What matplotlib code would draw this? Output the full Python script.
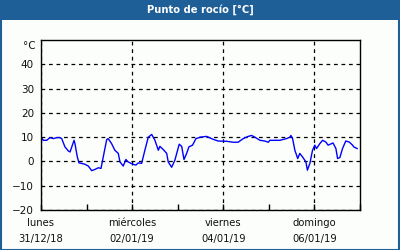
import matplotlib
matplotlib.use("Agg")
import matplotlib.pyplot as plt
from matplotlib.patches import Rectangle

title = "Punto de rocío [°C]"
unit = "°C"
hours = [0, 1.2, 3, 4.7, 6.5, 8.3, 10, 10.9, 12.6, 14.4, 15.3, 17.4, 17.9, 19.1, 20, 21.4, 23.2,
         24.9, 26.7, 28.4, 30.2, 31.6, 32.8, 34.6, 35.4, 37.2, 38.9, 40.7, 41.6, 43.3, 44.7, 45.9,
         47.4, 48.6, 50, 51.2, 53, 54.7, 56.5, 58.3, 60, 61.8, 62.6, 64.4, 66.2, 67, 68.8, 70.5,
         72.8, 74.1, 75.3, 76.7, 77.9, 79.8, 81.6, 83.3, 83.7, 87.2, 90.7, 93.3, 97.7, 101.2,
         103.8, 106.5, 109.1, 110.9, 112.6, 115.3, 117.9, 119.7, 120.5, 125.8, 129.3, 131.1,
         131.6, 132.5, 133.7, 135.2, 136.3, 137.7, 139.5, 140.3, 141.6, 143, 144.2, 145.1,
         146.8, 148.3, 150, 151.2, 153.8, 155.3, 156.2, 157.4, 158.8, 160.5, 162.3, 164.1,
         164.7, 166.5]
dew = [10.0, 8.7, 8.7, 9.8, 9.4, 9.8, 9.8, 9.4, 6.0, 4.3, 3.9, 8.7, 7.3, 1.9, -0.6, -0.8, -1.2,
       -1.9, -3.8, -3.3, -2.6, -2.9, 1.9, 9.0, 9.4, 7.3, 4.6, 3.3, -0.2, -1.9, 0.8, -0.2,
       -0.8, -1.2, -1.5, -0.6, -0.8, 4.6, 10.0, 11.1, 8.7, 4.6, 6.2, 4.9, 3.3, -0.2, -2.4, 0.5,
       7.1, 6.2, 0.8, 3.3, 6.0, 6.7, 9.4, 9.8, 10.0, 10.3, 9.1, 8.4, 8.3, 7.9,
       7.9, 9.4, 10.3, 10.7, 10.0, 8.7, 8.4, 7.9, 8.7, 8.7, 9.4, 10.0,
       10.7, 9.4, 4.6, 1.2, 3.3, 1.9, -0.2, -3.6, -0.8, 4.6, 6.7, 5.3,
       7.3, 8.7, 8.0, 6.7, 7.6, 5.3, 1.2, 1.6, 5.3, 8.4, 8.0, 6.7,
       6.0, 5.3]
xtick_pos = [0, 48, 96, 144]
xtick_labels = ["lunes\n31/12/18", "miércoles\n02/01/19", "viernes\n04/01/19", "domingo\n06/01/19"]
minor_pos = [24, 72, 120, 168]
ytick_pos = [-20, -10, 0, 10, 20, 30, 40]

bg = "#fbfefb"
blue = "#1e5f97"

fig = plt.figure(figsize=(4, 2.5), dpi=100, facecolor=bg)
plt.rcParams['font.family'] = ['DejaVu Sans']

# title bar
fig.patches.append(Rectangle((0, 1 - 20 / 250), 1, 20 / 250, transform=fig.transFigure,
                             facecolor=blue, edgecolor='none', zorder=0))
fig.patches.append(Rectangle((0.5 / 400, 0.5 / 250), 1 - 1.5 / 400, 1 - 1.5 / 250,
                             transform=fig.transFigure, fill=False, edgecolor=blue,
                             lw=1.5, zorder=1))
fig.text(0.5, 1 - 10 / 250, title, color='white', fontsize=7.2, fontweight='bold',
         ha='center', va='center')

ax = fig.add_axes([41 / 400, 40 / 250, 319 / 400, 170 / 250])
ax.set_facecolor(bg)
ax.plot(hours, dew, color='#0000ff', lw=1)
ax.set_xlim(0, 168)
ax.set_ylim(-20, 50)
ax.set_yticks(ytick_pos)
ax.set_xticks(xtick_pos)
ax.set_xticklabels(xtick_labels, fontsize=7.2, linespacing=1.75, color='#111111')
ax.set_xticks(minor_pos, minor=True)
ax.tick_params(axis='y', length=0, pad=5, labelsize=7.5, labelcolor='#111111')
ax.tick_params(axis='x', which='both', direction='in', length=4, pad=6, width=1)
ax.grid(True, which='major', color='black', linestyle=(0, (3, 3)), lw=0.9)
for s in ax.spines.values():
    s.set_linewidth(1)
    s.set_color('black')
ax.text(-5 / 319, 1 - 6 / 170, unit, transform=ax.transAxes, ha='right', va='center',
        fontsize=7.5, color='#111111')

fig.savefig("out.png", dpi=100, facecolor=bg)
